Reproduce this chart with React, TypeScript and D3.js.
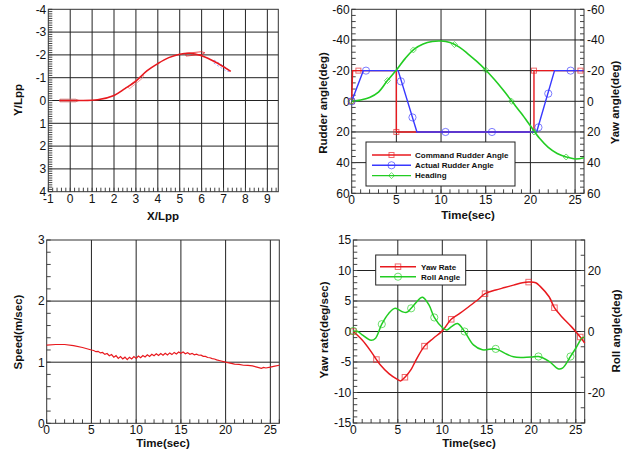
import React from 'react';
import * as d3 from 'd3';

const FONT = 'Arial, "Liberation Sans", sans-serif';
const RED = '#e8191e';
const BLUE = '#3838ff';
const GREEN = '#22cc22';

// ---------- Panel 1: trajectory ----------
const trajX = [-0.5, 0.3, 1.25, 2, 2.5, 3, 3.5, 4, 4.5, 5, 5.45, 6, 6.6, 7.33];
const trajY = [0, 0, -0.03, -0.22, -0.52, -0.85, -1.3, -1.62, -1.88, -2.03, -2.07, -1.96, -1.7, -1.28];
const shipX = [-0.05, 3.0, 5.7, 6.9];
const shipY = [0, -0.82, -2.05, -1.5];
const shipHeading = [0, -0.66, -0.1, 0.55];
const shipColor = ['#d07070', '#f08080', RED, '#8080ff'];

// ---------- Panel 2: rudder / heading ----------
const cmdTime = [0, 0.1, 5, 5, 20.4, 20.4, 26];
const cmdAngle = [0, -20, -20, 20, 20, -20, -20];
const cmdMarkTime = [0, 0.75, 5, 20.4, 25.6];
const cmdMarkAngle = [0, -20, 20, -20, -20];

const actTime = [0, 1.3, 5.2, 7.3, 20.7, 22.7, 26];
const actAngle = [0, -20, -20, 20, 20, -20, -20];
const actMarkTime = [0, 1.6, 5.5, 6.8, 10.5, 15.7, 20.9, 22, 24.5];
const actMarkAngle = [0, -20, -13, 10.5, 20, 20, 17, -5, -20];

const headTime = [0, 1, 2, 3, 4, 5, 6, 7, 8, 9, 10, 11, 12, 13, 14, 15, 16, 17, 18, 19, 20, 21, 22, 23, 24, 25, 26];
const headAngle = [0, -0.8, -2.5, -6, -13.5, -20.4, -28, -34, -37.4, -39, -39.3, -38.3, -35.5, -31, -26, -20.4, -14, -7, 0.5, 8, 16, 24, 30, 34, 36.3, 37.6, 36.8];
const headMarkTime = [0, 4, 6.9, 11.5, 15, 17.9, 20.4, 24];
const headMarkAngle = [0, -13.5, -33.5, -37, -20.4, 0, 20, 36.3];

// ---------- Panel 3: speed ----------
const speedTime = [0, 1, 2, 3, 4, 5, 5.25, 5.5, 5.75, 6, 6.25, 6.5, 6.75, 7, 7.25, 7.5, 7.75, 8, 8.25, 8.5, 8.75, 9, 9.25, 9.5, 9.75, 10, 10.25, 10.5, 10.75, 11, 11.25, 11.5, 11.75, 12, 12.25, 12.5, 12.75, 13, 13.25, 13.5, 13.75, 14, 14.25, 14.5, 14.75, 15, 15.25, 15.5, 15.75, 16, 16.25, 16.5, 16.75, 17, 17.25, 17.5, 17.75, 18, 18.25, 18.5, 18.75, 19, 19.5, 20, 20.5, 21, 21.5, 22, 22.5, 23, 23.5, 24, 24.25, 24.5, 25, 25.5, 26];
const speedValue = [1.28, 1.29, 1.29, 1.27, 1.24, 1.2, 1.192, 1.172, 1.178, 1.152, 1.16, 1.128, 1.142, 1.105, 1.125, 1.083, 1.107, 1.063, 1.092, 1.052, 1.082, 1.043, 1.082, 1.053, 1.092, 1.063, 1.1, 1.074, 1.11, 1.085, 1.12, 1.095, 1.13, 1.105, 1.137, 1.11, 1.142, 1.115, 1.147, 1.12, 1.152, 1.125, 1.16, 1.135, 1.168, 1.147, 1.167, 1.138, 1.157, 1.13, 1.145, 1.122, 1.132, 1.114, 1.116, 1.096, 1.094, 1.077, 1.073, 1.058, 1.052, 1.038, 1.02, 1.0, 0.985, 0.97, 0.965, 0.95, 0.948, 0.94, 0.92, 0.9, 0.915, 0.905, 0.92, 0.935, 0.95];

// ---------- Panel 4: yaw rate / roll ----------
const yawTime = [0, 1, 2, 2.6, 3, 4, 5, 5.3, 5.8, 6.5, 7, 8, 9, 10, 11, 12, 13, 14, 14.8, 16, 17, 18, 19, 19.7, 20.5, 21, 22, 22.6, 23.5, 24.5, 25.5, 26];
const yawRate = [0, -1.4, -3.3, -4.6, -5.4, -6.9, -7.9, -8.1, -7.5, -6.2, -4.8, -2.4, -1.1, 0.1, 2.0, 3.0, 4.1, 5.2, 6.2, 6.8, 7.2, 7.6, 8.0, 8.1, 8.0, 7.4, 5.7, 3.9, 2.3, 0.8, -0.9, -1.9];
const yawMarkTime = [0, 2.6, 5.8, 8, 11, 14.8, 19.7, 22.6, 25.5];
const yawMarkRate = [0, -4.6, -7.5, -2.4, 2.0, 6.2, 8.1, 3.9, -0.9];

const rollTime = [0, 0.5, 1, 2, 2.5, 3.2, 4, 4.7, 5.5, 6, 6.5, 7.5, 7.8, 8.5, 9.1, 10, 10.5, 11, 11.7, 12.5, 13.5, 14.5, 16, 17, 18, 19, 20, 20.8, 22, 23, 23.5, 24.4, 25, 25.7, 26];
const rollAngle = [0.2, 0, -1.1, -2.9, -2.2, 2.4, 6.0, 7.6, 6.5, 6.3, 7.6, 10.9, 11.2, 8.7, 4.6, 1.3, 0.5, 1.5, 2.6, 0, -4.4, -6.0, -5.7, -7.1, -8.3, -8.5, -8.4, -8.2, -9.8, -12.2, -12.0, -8.2, -5.5, -2.2, -1.9];
const rollMarkTime = [0, 3.2, 6.5, 9.1, 12.5, 16, 20.8, 24.4];
const rollMarkAngle = [0.2, 2.4, 7.6, 4.6, 0, -5.7, -8.2, -8.2];

// ---------- helpers ----------
type Lin = d3.ScaleLinear<number, number>;

function range(a: number, b: number, s: number) {
  const out: number[] = [];
  const n = Math.round((b - a) / s);
  for (let i = 0; i <= n; i++) out.push(+(a + i * s).toFixed(6));
  return out;
}

function Frame(props: {
  x: Lin; y: Lin; xMajor: number[]; yMajor: number[]; xGrid: number[]; yGrid: number[];
  xMinor: number[]; yMinor: number[]; y2?: Lin; y2Major?: number[]; y2Minor?: number[];
}) {
  const { x, y, xMajor, yMajor, xGrid, yGrid, xMinor, yMinor, y2, y2Major, y2Minor } = props;
  const [x0, x1] = x.range();
  const [y1, y0] = y.range();
  const tl = 4;
  return (
    <g>
      {xGrid.map((v) => (
        <line key={'xg' + v} x1={x(v)} x2={x(v)} y1={y0} y2={y1} stroke="#222" strokeWidth={1} />
      ))}
      {yGrid.map((v) => (
        <line key={'yg' + v} x1={x0} x2={x1} y1={y(v)} y2={y(v)} stroke="#222" strokeWidth={1} />
      ))}
      {xMinor.map((v) => (
        <line key={'xm' + v} x1={x(v)} x2={x(v)} y1={y1} y2={y1 - tl} stroke="#444" strokeWidth={1} />
      ))}
      {yMinor.map((v) => (
        <line key={'ym' + v} x1={x0} x2={x0 + tl} y1={y(v)} y2={y(v)} stroke="#444" strokeWidth={1} />
      ))}
      {y2 && y2Minor && y2Minor.map((v) => (
        <line key={'y2m' + v} x1={x1} x2={x1 - tl} y1={y2(v)} y2={y2(v)} stroke="#444" strokeWidth={1} />
      ))}
      <rect x={x0} y={y0} width={x1 - x0} height={y1 - y0} fill="none" stroke="#333" strokeWidth={1} />
      {xMajor.map((v) => (
        <text key={'xl' + v} x={x(v)} y={y1 + 11} fontSize={12} textAnchor="middle" fontFamily={FONT} fill="#111">{v}</text>
      ))}
      {yMajor.map((v) => (
        <text key={'yl' + v} x={x0 - 2} y={y(v)} dy="0.36em" fontSize={12} textAnchor="end" fontFamily={FONT} fill="#111">{v}</text>
      ))}
      {y2 && y2Major && y2Major.map((v) => (
        <text key={'y2l' + v} x={x1 + 3} y={y2(v)} dy="0.36em" fontSize={12} textAnchor="start" fontFamily={FONT} fill="#111">{v}</text>
      ))}
    </g>
  );
}

function Title({ x, y, text, rotate }: { x: number; y: number; text: string; rotate?: boolean }) {
  return (
    <text
      x={rotate ? 0 : x}
      y={rotate ? 0 : y}
      transform={rotate ? `translate(${x},${y}) rotate(-90)` : undefined}
      fontSize={11.5}
      fontWeight="bold"
      textAnchor="middle"
      fontFamily={FONT}
      fill="#111"
    >
      {text}
    </text>
  );
}

function Square({ cx, cy, c, s = 5 }: { cx: number; cy: number; c: string; s?: number }) {
  return <rect x={cx - s / 2} y={cy - s / 2} width={s} height={s} fill="none" stroke={c} strokeOpacity={0.65} strokeWidth={1} />;
}
function Circle({ cx, cy, c, r = 3.6 }: { cx: number; cy: number; c: string; r?: number }) {
  return <circle cx={cx} cy={cy} r={r} fill="none" stroke={c} strokeOpacity={0.65} strokeWidth={1} />;
}
function Diamond({ cx, cy, c, s = 3 }: { cx: number; cy: number; c: string; s?: number }) {
  return <path d={`M${cx},${cy - s}L${cx + s},${cy}L${cx},${cy + s}L${cx - s},${cy}Z`} fill="none" stroke={c} strokeOpacity={0.65} strokeWidth={1} />;
}

function linePath(xs: number[], ys: number[], x: Lin, y: Lin, smooth: boolean) {
  const pts = xs.map((v, i) => [v, ys[i]] as [number, number]);
  const gen = d3.line<[number, number]>().x((d) => x(d[0])).y((d) => y(d[1]));
  if (smooth) gen.curve(d3.curveCatmullRom.alpha(0.5));
  return gen(pts) || '';
}

// ---------- App ----------
export default function App() {
  // Panel 1
  const x1 = d3.scaleLinear().domain([-1, 9.5]).range([48.3, 278.3]);
  const y1 = d3.scaleLinear().domain([4, -4]).range([191.7, 9.3]);
  // Panel 2
  const x2 = d3.scaleLinear().domain([0, 26]).range([351.7, 584]);
  const y2 = d3.scaleLinear().domain([60, -60]).range([193.3, 9.3]);
  const y2r = d3.scaleLinear().domain([60, -60]).range([193.3, 9.3]);
  // Panel 3
  const x3 = d3.scaleLinear().domain([0, 26]).range([46.7, 279.3]);
  const y3 = d3.scaleLinear().domain([0, 3]).range([423.3, 240]);
  // Panel 4
  const x4 = d3.scaleLinear().domain([0, 26]).range([353.3, 584.7]);
  const y4 = d3.scaleLinear().domain([-15, 15]).range([423, 240]);
  const y4r = d3.scaleLinear().domain([-30, 30]).range([423, 240]);

  const shipLocal: [number, number][] = [[-0.42, -0.06], [0.3, -0.06], [0.45, 0], [0.3, 0.06], [-0.42, 0.06]];
  const shipPath = (i: number) => {
    const cx = shipX[i], cy = shipY[i], th = shipHeading[i];
    const pts = shipLocal.map(([u, v]) => [cx + u * Math.cos(th) - v * Math.sin(th), cy + u * Math.sin(th) + v * Math.cos(th)]);
    return 'M' + pts.map((p) => `${x1(p[0])},${y1(p[1])}`).join('L') + 'Z';
  };

  return (
    <svg width={628} height={450} style={{ position: 'absolute', left: 0, top: 0, background: '#fff' }}>
      <rect width={628} height={450} fill="#fff" />

      {/* Panel 1 */}
      <Frame
        x={x1} y={y1}
        xMajor={range(-1, 9, 1)} yMajor={range(-4, 4, 1)}
        xGrid={range(0, 9, 1)} yGrid={range(-3, 3, 1)}
        xMinor={range(-1, 9.4, 0.2)} yMinor={range(-4, 4, 0.1)}
      />
      {shipX.map((_, i) => (
        <path key={'ship' + i} d={shipPath(i)} fill={i === 0 ? 'rgba(120,120,120,0.45)' : 'none'} stroke={shipColor[i]} strokeWidth={1} strokeOpacity={0.75} strokeDasharray={i === 3 ? '2,2' : undefined} />
      ))}
      <path d={linePath(trajX, trajY, x1, y1, true)} fill="none" stroke={RED} strokeWidth={1.6} />
      <Title x={163} y={220} text="X/Lpp" />
      <Title x={22} y={100} text="Y/Lpp" rotate />

      {/* Panel 2 */}
      <Frame
        x={x2} y={y2}
        xMajor={range(0, 25, 5)} yMajor={range(-60, 60, 20)}
        xGrid={range(5, 25, 5)} yGrid={range(-40, 40, 20)}
        xMinor={range(0, 26, 1)} yMinor={range(-60, 60, 4)}
        y2={y2r} y2Major={range(-60, 60, 20)} y2Minor={range(-60, 60, 4)}
      />
      <path d={linePath(cmdTime, cmdAngle, x2, y2, false)} fill="none" stroke={RED} strokeWidth={1.4} />
      <path d={linePath(actTime, actAngle, x2, y2, false)} fill="none" stroke={BLUE} strokeWidth={1.4} />
      <path d={linePath(headTime, headAngle, x2, y2r, true)} fill="none" stroke={GREEN} strokeWidth={1.6} />
      {cmdMarkTime.map((t, i) => <Square key={'cm' + i} cx={x2(t)} cy={y2(cmdMarkAngle[i])} c={RED} />)}
      {actMarkTime.map((t, i) => <Circle key={'am' + i} cx={x2(t)} cy={y2(actMarkAngle[i])} c={BLUE} />)}
      {headMarkTime.map((t, i) => <Diamond key={'hm' + i} cx={x2(t)} cy={y2r(headMarkAngle[i])} c={GREEN} />)}
      <g>
        <rect x={366} y={142} width={149} height={44} fill="#fff" stroke="#222" strokeWidth={1} />
        {[
          { c: RED, label: 'Command Rudder Angle', m: 'sq' },
          { c: BLUE, label: 'Actual Rudder Angle', m: 'ci' },
          { c: GREEN, label: 'Heading', m: 'di' },
        ].map((row, i) => {
          const yy = 155 + i * 10.3;
          return (
            <g key={'lg2' + i}>
              <line x1={372} x2={411} y1={yy} y2={yy} stroke={row.c} strokeWidth={1.4} />
              {row.m === 'sq' && <Square cx={391.5} cy={yy} c={row.c} />}
              {row.m === 'ci' && <Circle cx={391.5} cy={yy} c={row.c} />}
              {row.m === 'di' && <Diamond cx={391.5} cy={yy} c={row.c} />}
              <text x={415} y={yy} dy="0.35em" fontSize={8} fontWeight="bold" fontFamily={FONT} fill="#111">{row.label}</text>
            </g>
          );
        })}
      </g>
      <Title x={468} y={219} text="Time(sec)" />
      <Title x={327} y={103} text="Rudder angle(deg)" rotate />
      <Title x={619} y={102.5} text="Yaw angle(deg)" rotate />

      {/* Panel 3 */}
      <Frame
        x={x3} y={y3}
        xMajor={range(0, 25, 5)} yMajor={range(0, 3, 1)}
        xGrid={range(5, 25, 5)} yGrid={range(1, 2, 1)}
        xMinor={range(0, 26, 1)} yMinor={range(0, 3, 0.2)}
      />
      <path d={linePath(speedTime, speedValue, x3, y3, false)} fill="none" stroke={RED} strokeWidth={1.2} />
      <Title x={163} y={447} text="Time(sec)" />
      <Title x={22} y={332} text="Speed(m/sec)" rotate />

      {/* Panel 4 */}
      <Frame
        x={x4} y={y4}
        xMajor={range(0, 25, 5)} yMajor={range(-15, 15, 5)}
        xGrid={range(5, 25, 5)} yGrid={range(-10, 10, 5)}
        xMinor={range(0, 26, 1)} yMinor={range(-15, 15, 1)}
        y2={y4r} y2Major={range(-20, 20, 20)} y2Minor={range(-30, 30, 5)}
      />
      <path d={linePath(yawTime, yawRate, x4, y4, true)} fill="none" stroke={RED} strokeWidth={1.5} />
      <path d={linePath(rollTime, rollAngle, x4, y4r, true)} fill="none" stroke={GREEN} strokeWidth={1.5} />
      {yawMarkTime.map((t, i) => <Square key={'ym' + i} cx={x4(t)} cy={y4(yawMarkRate[i])} c={RED} s={5.5} />)}
      {rollMarkTime.map((t, i) => <Circle key={'rm' + i} cx={x4(t)} cy={y4r(rollMarkAngle[i])} c={GREEN} />)}
      <g>
        <rect x={375.7} y={255} width={90} height={30} fill="#fff" stroke="#222" strokeWidth={1} />
        {[
          { c: RED, label: 'Yaw Rate', m: 'sq' },
          { c: GREEN, label: 'Roll Angle', m: 'ci' },
        ].map((row, i) => {
          const yy = 266.7 + i * 10;
          return (
            <g key={'lg4' + i}>
              <line x1={380} x2={416} y1={yy} y2={yy} stroke={row.c} strokeWidth={1.4} />
              {row.m === 'sq' && <Square cx={398} cy={yy} c={row.c} s={5.5} />}
              {row.m === 'ci' && <Circle cx={398} cy={yy} c={row.c} />}
              <text x={421} y={yy} dy="0.35em" fontSize={8} fontWeight="bold" fontFamily={FONT} fill="#111">{row.label}</text>
            </g>
          );
        })}
      </g>
      <Title x={469} y={447} text="Time(sec)" />
      <Title x={328} y={330} text="Yaw rate(deg/sec)" rotate />
      <Title x={619.5} y={331} text="Roll angle(deg)" rotate />
    </svg>
  );
}
